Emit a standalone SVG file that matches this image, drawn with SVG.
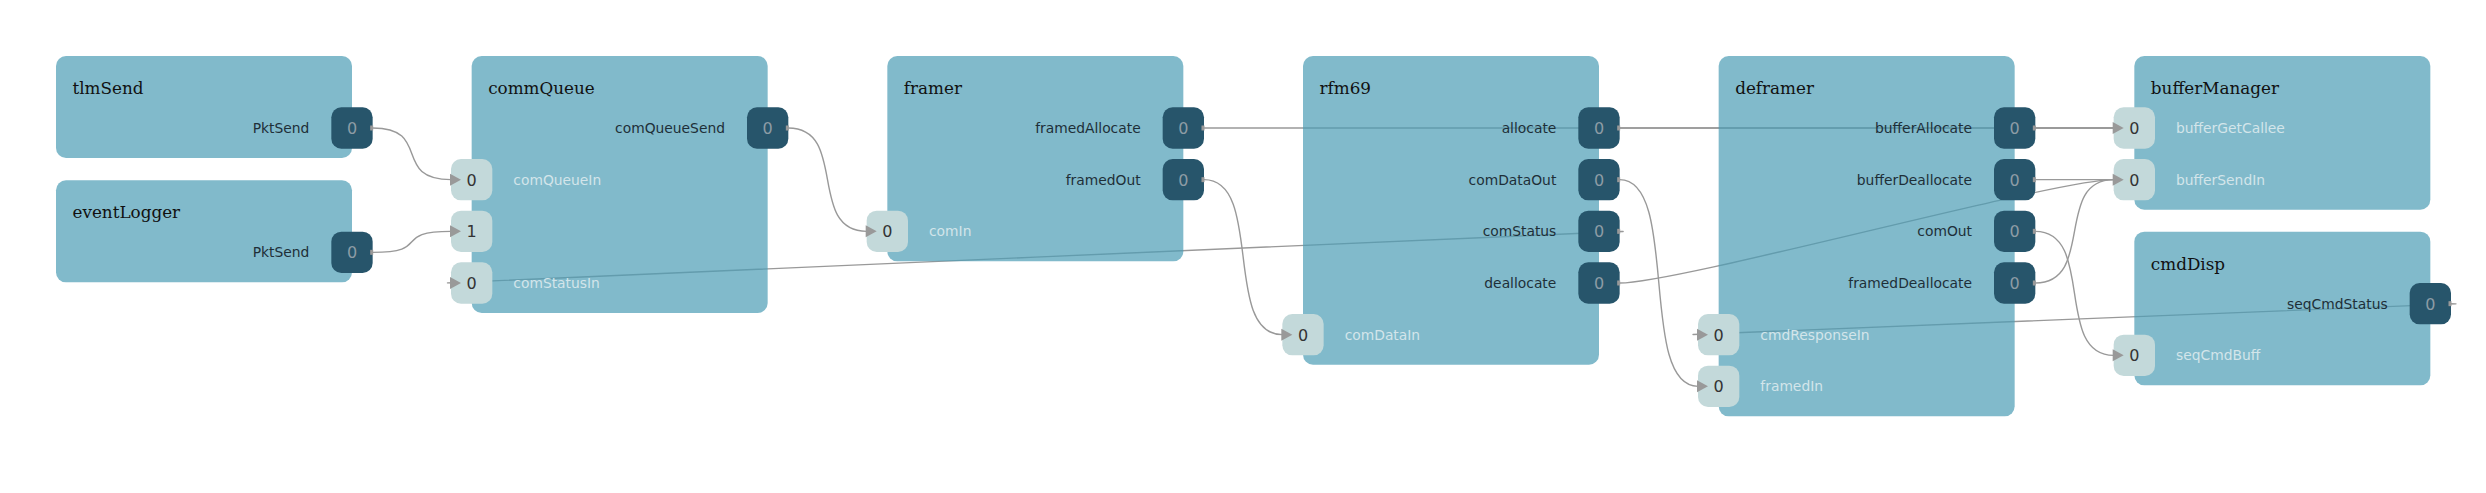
<svg xmlns="http://www.w3.org/2000/svg" xmlns:xlink="http://www.w3.org/1999/xlink" width="2486" height="493" viewBox="0 0 2486 493">
<defs>
<style>
.box{fill:#4b9cb5;fill-opacity:0.7}
.title{font-family:"DejaVu Serif","Liberation Serif",serif;font-size:16.8px;fill:#111}
.olab{font-family:"DejaVu Sans","Liberation Sans",sans-serif;font-size:13.85px;fill:#1e2f38;text-anchor:end}
.ilab{font-family:"DejaVu Sans","Liberation Sans",sans-serif;font-size:13.85px;fill:#d3e5ea}
.oport{fill:#27556b}
.iport{fill:#c3d9da}
.onum{font-family:"DejaVu Sans","Liberation Sans",sans-serif;font-size:16px;fill:#8d9ca5;text-anchor:middle}
.inum{font-family:"DejaVu Sans","Liberation Sans",sans-serif;font-size:16px;fill:#333;text-anchor:middle}
.edge{fill:none;stroke:#999;stroke-width:1.4}
.end{fill:#999}
</style>
<path id="arrowhead" d="M-1,-6 L10,0 L-1,6 Z"/>
<rect id="stub" x="-2.5" y="-2.5" width="3" height="5"/>
</defs>
<rect width="2486" height="493" fill="#fff"/>

<g id="connectors">
<path class="edge" d="M372.67,128 C432.67,128 391,179.67 451,179.67"/>
<path class="edge" d="M372.67,252.33 C432.67,252.33 391,231.33 451,231.33"/>
<path class="edge" d="M788.33,128 C848.33,128 806.67,231.33 866.67,231.33"/>
<path class="edge" d="M1204,128 L2113.67,128"/>
<path class="edge" d="M1204,179.67 C1264,179.67 1222.33,334.67 1282.33,334.67"/>
<path class="edge" d="M1619.67,128 L2113.67,128"/>
<path class="edge" d="M1619.67,179.67 C1679.67,179.67 1638,386.33 1698,386.33"/>
<path class="edge" d="M1619.67,231.33 C1699.67,231.33 371,283 451,283"/>
<path class="edge" d="M1619.67,283 C1679.67,283 2053.67,179.67 2113.67,179.67"/>
<path class="edge" d="M2035.33,128 L2113.67,128"/>
<path class="edge" d="M2035.33,179.67 L2113.67,179.67"/>
<path class="edge" d="M2035.33,231.33 C2095.33,231.33 2053.67,355.33 2113.67,355.33"/>
<path class="edge" d="M2035.33,283 C2095.33,283 2053.67,179.67 2113.67,179.67"/>
<path class="edge" d="M2451,303.67 C2531,303.67 1618,334.67 1698,334.67"/>
</g>

<g id="tlmSend">
<rect class="box" x="56" y="56" width="296" height="102" rx="10"/>
<text class="title" x="72.5" y="94">tlmSend</text>
<text class="olab" x="309.33" y="133">PktSend</text>
<rect class="oport" x="331.33" y="107.33" width="41.33" height="41.33" rx="10"/>
<text class="onum" x="352" y="134">0</text>
</g>

<g id="eventLogger">
<rect class="box" x="56" y="180.33" width="296" height="102" rx="10"/>
<text class="title" x="72.5" y="218.33">eventLogger</text>
<text class="olab" x="309.33" y="257.33">PktSend</text>
<rect class="oport" x="331.33" y="231.67" width="41.33" height="41.33" rx="10"/>
<text class="onum" x="352" y="258.33">0</text>
</g>

<g id="commQueue">
<rect class="box" x="471.67" y="56" width="296" height="257" rx="10"/>
<text class="title" x="488.17" y="94">commQueue</text>
<text class="olab" x="725" y="133">comQueueSend</text>
<rect class="oport" x="747" y="107.33" width="41.33" height="41.33" rx="10"/>
<text class="onum" x="767.67" y="134">0</text>
<rect class="iport" x="451" y="159" width="41.33" height="41.33" rx="10"/>
<text class="inum" x="471.67" y="185.67">0</text>
<text class="ilab" x="513.33" y="184.67">comQueueIn</text>
<rect class="iport" x="451" y="210.67" width="41.33" height="41.33" rx="10"/>
<text class="inum" x="471.67" y="237.33">1</text>
<rect class="iport" x="451" y="262.33" width="41.33" height="41.33" rx="10"/>
<text class="inum" x="471.67" y="289">0</text>
<text class="ilab" x="513.33" y="288">comStatusIn</text>
</g>

<g id="framer">
<rect class="box" x="887.33" y="56" width="296" height="205.33" rx="10"/>
<text class="title" x="903.83" y="94">framer</text>
<text class="olab" x="1140.67" y="133">framedAllocate</text>
<rect class="oport" x="1162.67" y="107.33" width="41.33" height="41.33" rx="10"/>
<text class="onum" x="1183.33" y="134">0</text>
<text class="olab" x="1140.67" y="184.67">framedOut</text>
<rect class="oport" x="1162.67" y="159" width="41.33" height="41.33" rx="10"/>
<text class="onum" x="1183.33" y="185.67">0</text>
<rect class="iport" x="866.67" y="210.67" width="41.33" height="41.33" rx="10"/>
<text class="inum" x="887.33" y="237.33">0</text>
<text class="ilab" x="929" y="236.33">comIn</text>
</g>

<g id="rfm69">
<rect class="box" x="1303" y="56" width="296" height="308.67" rx="10"/>
<text class="title" x="1319.5" y="94">rfm69</text>
<text class="olab" x="1556.33" y="133">allocate</text>
<rect class="oport" x="1578.33" y="107.33" width="41.33" height="41.33" rx="10"/>
<text class="onum" x="1599" y="134">0</text>
<text class="olab" x="1556.33" y="184.67">comDataOut</text>
<rect class="oport" x="1578.33" y="159" width="41.33" height="41.33" rx="10"/>
<text class="onum" x="1599" y="185.67">0</text>
<text class="olab" x="1556.33" y="236.33">comStatus</text>
<rect class="oport" x="1578.33" y="210.67" width="41.33" height="41.33" rx="10"/>
<text class="onum" x="1599" y="237.33">0</text>
<text class="olab" x="1556.33" y="288">deallocate</text>
<rect class="oport" x="1578.33" y="262.33" width="41.33" height="41.33" rx="10"/>
<text class="onum" x="1599" y="289">0</text>
<rect class="iport" x="1282.33" y="314" width="41.33" height="41.33" rx="10"/>
<text class="inum" x="1303" y="340.67">0</text>
<text class="ilab" x="1344.67" y="339.67">comDataIn</text>
</g>

<g id="deframer">
<rect class="box" x="1718.67" y="56" width="296" height="360.33" rx="10"/>
<text class="title" x="1735.17" y="94">deframer</text>
<text class="olab" x="1972" y="133">bufferAllocate</text>
<rect class="oport" x="1994" y="107.33" width="41.33" height="41.33" rx="10"/>
<text class="onum" x="2014.67" y="134">0</text>
<text class="olab" x="1972" y="184.67">bufferDeallocate</text>
<rect class="oport" x="1994" y="159" width="41.33" height="41.33" rx="10"/>
<text class="onum" x="2014.67" y="185.67">0</text>
<text class="olab" x="1972" y="236.33">comOut</text>
<rect class="oport" x="1994" y="210.67" width="41.33" height="41.33" rx="10"/>
<text class="onum" x="2014.67" y="237.33">0</text>
<text class="olab" x="1972" y="288">framedDeallocate</text>
<rect class="oport" x="1994" y="262.33" width="41.33" height="41.33" rx="10"/>
<text class="onum" x="2014.67" y="289">0</text>
<rect class="iport" x="1698" y="314" width="41.33" height="41.33" rx="10"/>
<text class="inum" x="1718.67" y="340.67">0</text>
<text class="ilab" x="1760.33" y="339.67">cmdResponseIn</text>
<rect class="iport" x="1698" y="365.67" width="41.33" height="41.33" rx="10"/>
<text class="inum" x="1718.67" y="392.33">0</text>
<text class="ilab" x="1760.33" y="391.33">framedIn</text>
</g>

<g id="bufferManager">
<rect class="box" x="2134.33" y="56" width="296" height="153.67" rx="10"/>
<text class="title" x="2150.83" y="94">bufferManager</text>
<rect class="iport" x="2113.67" y="107.33" width="41.33" height="41.33" rx="10"/>
<text class="inum" x="2134.33" y="134">0</text>
<text class="ilab" x="2176" y="133">bufferGetCallee</text>
<rect class="iport" x="2113.67" y="159" width="41.33" height="41.33" rx="10"/>
<text class="inum" x="2134.33" y="185.67">0</text>
<text class="ilab" x="2176" y="184.67">bufferSendIn</text>
</g>

<g id="cmdDisp">
<rect class="box" x="2134.33" y="231.67" width="296" height="153.67" rx="10"/>
<text class="title" x="2150.83" y="269.67">cmdDisp</text>
<text class="olab" x="2387.67" y="308.67">seqCmdStatus</text>
<rect class="oport" x="2409.67" y="283" width="41.33" height="41.33" rx="10"/>
<text class="onum" x="2430.33" y="309.67">0</text>
<rect class="iport" x="2113.67" y="334.67" width="41.33" height="41.33" rx="10"/>
<text class="inum" x="2134.33" y="361.33">0</text>
<text class="ilab" x="2176" y="360.33">seqCmdBuff</text>
</g>

<g id="connector-ends" class="end">
<use href="#stub" x="372.67" y="128"/>
<use href="#stub" x="372.67" y="252.33"/>
<use href="#stub" x="788.33" y="128"/>
<use href="#stub" x="1204" y="128"/>
<use href="#stub" x="1204" y="179.67"/>
<use href="#stub" x="1619.67" y="128"/>
<use href="#stub" x="1619.67" y="179.67"/>
<use href="#stub" x="1619.67" y="231.33"/>
<use href="#stub" x="1619.67" y="283"/>
<use href="#stub" x="2035.33" y="128"/>
<use href="#stub" x="2035.33" y="179.67"/>
<use href="#stub" x="2035.33" y="231.33"/>
<use href="#stub" x="2035.33" y="283"/>
<use href="#stub" x="2451" y="303.67"/>
<use href="#arrowhead" x="451" y="179.67"/>
<use href="#arrowhead" x="451" y="231.33"/>
<use href="#arrowhead" x="451" y="283"/>
<use href="#arrowhead" x="866.67" y="231.33"/>
<use href="#arrowhead" x="1282.33" y="334.67"/>
<use href="#arrowhead" x="1698" y="334.67"/>
<use href="#arrowhead" x="1698" y="386.33"/>
<use href="#arrowhead" x="2113.67" y="128"/>
<use href="#arrowhead" x="2113.67" y="179.67"/>
<use href="#arrowhead" x="2113.67" y="355.33"/>
</g>
</svg>
